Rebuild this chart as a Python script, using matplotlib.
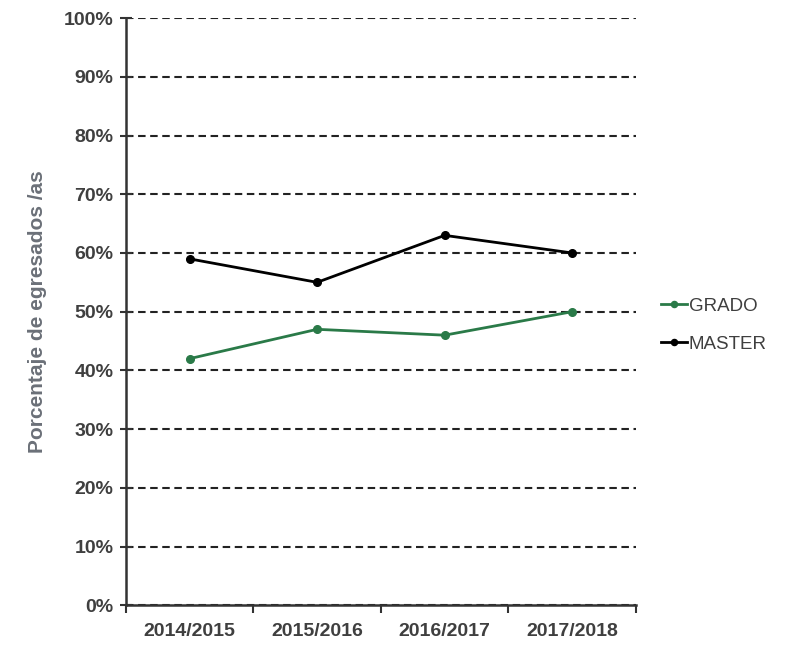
import matplotlib
matplotlib.use("Agg")
import matplotlib.pyplot as plt
import numpy as np
from matplotlib.ticker import FixedLocator, PercentFormatter

plt.rcParams["font.family"] = ["Liberation Sans", "DejaVu Sans"]

courses = ["2014/2015", "2015/2016", "2016/2017", "2017/2018"]
grado = [42, 47, 46, 50]
master = [59, 55, 63, 60]

GREEN = "#2a7a48"
TEXT = "#3f3f3f"

fig = plt.figure(figsize=(7.96, 6.46), dpi=100)
ax = fig.add_axes([0.158, 0.063, 0.641, 0.909])

x = np.arange(len(courses))
ax.plot(x, grado, color=GREEN, marker="o", markersize=5.5, linewidth=2, label="GRADO", zorder=3)
ax.plot(x, master, color="black", marker="o", markersize=5.5, linewidth=2, label="MASTER", zorder=3)

ax.set_xlim(-0.5, len(courses) - 0.5)
ax.set_ylim(0, 100)
ax.set_yticks(np.arange(0, 101, 10))
ax.yaxis.set_major_formatter(PercentFormatter(decimals=0))
ax.grid(axis="y", linestyle=(0, (3.6, 2.2)), color="#222222", linewidth=1.5)
ax.set_axisbelow(True)

# category ticks sit between categories, labels at centres
ax.xaxis.set_major_locator(FixedLocator(np.arange(len(courses) + 1) - 0.5))
ax.xaxis.set_minor_locator(FixedLocator(x))
ax.set_xticklabels([""] * (len(courses) + 1))
ax.set_xticklabels(courses, minor=True)
ax.tick_params(axis="x", which="major", length=6, width=1.5, direction="out", color="#333333")
ax.tick_params(axis="x", which="minor", length=0, pad=13)
ax.tick_params(axis="y", length=8, width=1.5, direction="inout", color="#333333", pad=5)

for lbl in ax.get_yticklabels() + ax.get_xticklabels(minor=True):
    lbl.set_fontweight("bold")
    lbl.set_fontsize(14)
    lbl.set_color(TEXT)

for side in ("top", "right"):
    ax.spines[side].set_visible(False)
for side in ("left", "bottom"):
    ax.spines[side].set_linewidth(1.8)
    ax.spines[side].set_color("#333333")

ax.set_ylabel("Porcentaje de egresados /as", fontsize=15, fontweight="bold",
              color="#6b7078", labelpad=12)

leg = ax.legend(loc="center left", bbox_to_anchor=(1.015, 0.477), frameon=False,
                fontsize=13.5, handlelength=1.4, labelspacing=1.1, handletextpad=0.1,
                markerscale=0.8)
for t in leg.get_texts():
    t.set_color(TEXT)

fig.savefig("out.png", dpi=100)
